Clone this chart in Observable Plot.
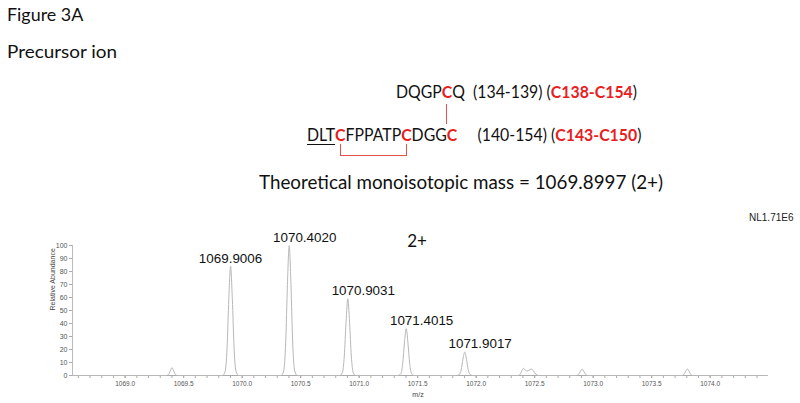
<!DOCTYPE html>
<html>
<head>
<meta charset="utf-8">
<script src="https://cdn.jsdelivr.net/npm/d3@7"></script>
<script src="https://cdn.jsdelivr.net/npm/@observablehq/plot@0.6"></script>
<style>
  html, body { margin: 0; padding: 0; background: #fff; }
  #wrap { position: relative; width: 800px; height: 403px; overflow: hidden; background: #fff; }
  .hd { position: absolute; white-space: pre; font-family: Lato, "Open Sans", sans-serif; color: #111; line-height: 1; font-size: 20px; transform-origin: 0 0; }
  .r { color: #e8201e; font-weight: bold; }
  .u { text-decoration: underline; text-decoration-thickness: 1px; text-underline-offset: 3px; }
  .redline { position: absolute; background: #e8504c; }
  #chart { position: absolute; left: 0; top: 200px; }
</style>
</head>
<body>
<div id="wrap"></div>
<script>
// ---------- data ----------
const figureTitle = "Figure 3A";
const subtitle = "Precursor ion";
const massText = "Theoretical monoisotopic mass = 1069.8997 (2+)";
const chargeText = "2+";
const nlText = "NL1.71E6";
const yLabel = "Relative Abundance";
const xLabel = "m/z";

// labelled isotopic peaks
const peakMz = [1069.9006, 1070.4020, 1070.9031, 1071.4015, 1071.9017];
const peakAbundance = [84, 100, 59, 36, 18];
const peakLabels = ["1069.9006", "1070.4020", "1070.9031", "1071.4015", "1071.9017"];

// profile spectrum (m/z, relative abundance)
const profileMz = [
  1068.55,
  1069.355, 1069.375, 1069.390, 1069.400, 1069.410, 1069.425, 1069.445,
  1069.832, 1069.854, 1069.871, 1069.886, 1069.901, 1069.916, 1069.931, 1069.948, 1069.970,
  1070.333, 1070.355, 1070.372, 1070.387, 1070.402, 1070.417, 1070.432, 1070.449, 1070.471,
  1070.834, 1070.856, 1070.873, 1070.888, 1070.903, 1070.918, 1070.933, 1070.950, 1070.972,
  1071.333, 1071.355, 1071.372, 1071.387, 1071.402, 1071.417, 1071.432, 1071.449, 1071.471,
  1071.833, 1071.855, 1071.872, 1071.887, 1071.902, 1071.917, 1071.932, 1071.949, 1071.971,
  1072.360, 1072.380, 1072.395, 1072.405, 1072.420, 1072.440, 1072.460, 1072.473, 1072.490, 1072.510, 1072.530,
  1072.860, 1072.880, 1072.895, 1072.905, 1072.915, 1072.930, 1072.950,
  1073.760, 1073.780, 1073.795, 1073.805, 1073.815, 1073.830, 1073.850,
  1074.49
];
const profileAbundance = [
  0,
  0, 1.5, 4.5, 6, 4.5, 1.5, 0,
  0, 3, 21, 59, 84, 59, 21, 3, 0,
  0, 3.5, 25, 70, 100, 70, 25, 3.5, 0,
  0, 2, 15, 41, 59, 41, 15, 2, 0,
  0, 1.3, 9, 25, 36, 25, 9, 1.3, 0,
  0, 0.7, 4.5, 12.6, 18, 12.6, 4.5, 0.7, 0,
  0, 1.5, 4.5, 5.5, 4, 3.5, 4.5, 5, 3.5, 1, 0,
  0, 1.5, 4, 5, 4, 1.5, 0,
  0, 1.5, 4, 5, 4, 1.5, 0,
  0
];

const xTickValues = [1069.0, 1069.5, 1070.0, 1070.5, 1071.0, 1071.5, 1072.0, 1072.5, 1073.0, 1073.5, 1074.0];
const yTickValues = [0, 10, 20, 30, 40, 50, 60, 70, 80, 90, 100];
const xDomain = [1068.55, 1074.49];

// ---------- header (HTML above the plot) ----------
const wrap = document.getElementById("wrap");
const headers = [
  {html: figureTitle, left: 6.7, width: 76.3, baseline: 20.7, size: 18},
  {html: subtitle, left: 6.7, width: 110, baseline: 57.5, size: 18},
  {html: 'DQGP<span class="r" id="c1">C</span>Q  (134-139) (<span class="r">C138-C154</span>)', left: 395.7, width: 241, baseline: 98.3, size: 16.4},
  {html: '<span class="u">DLT</span><span class="r" id="c2">C</span>FPPATP<span class="r" id="c3">C</span>DGG<span class="r">C</span>     (140-154) (<span class="r">C143-C150</span>)', left: 307.3, width: 334.4, baseline: 140.5, size: 16.4},
  {html: massText, left: 259, width: 404, baseline: 189.3, size: 18.5}
];
for (const h of headers) {
  const d = document.createElement("div");
  d.className = "hd";
  d.innerHTML = h.html + '<span class="bl" style="display:inline-block;width:0;height:0;vertical-align:baseline"></span>';
  d.style.left = h.left + "px";
  d.style.top = "0px";
  d.style.fontSize = h.size + "px";
  wrap.appendChild(d);
  const w0 = d.getBoundingClientRect().width;
  d.style.transform = "scaleX(" + (h.width / w0) + ")";
  const wr = wrap.getBoundingClientRect();
  const bl = d.querySelector(".bl").getBoundingClientRect().top - wr.top;
  d.style.top = (h.baseline - bl) + "px";
}
function centerX(id) {
  const r = document.getElementById(id).getBoundingClientRect();
  const wr = wrap.getBoundingClientRect();
  return (r.left + r.right) / 2 - wr.left;
}
function redLine(x, y, w, h) {
  const e = document.createElement("div");
  e.className = "redline";
  e.style.left = x + "px"; e.style.top = y + "px";
  e.style.width = w + "px"; e.style.height = h + "px";
  wrap.appendChild(e);
}
const xc1 = centerX("c1"), xc2 = centerX("c2"), xc3 = centerX("c3");
redLine(xc1 - 0.5, 104, 1, 20);
redLine(xc2 - 0.5, 144, 1, 11);
redLine(xc3 - 0.5, 144, 1, 11);
redLine(xc2 - 0.5, 154.5, xc3 - xc2 + 1, 1);

// ---------- plot ----------
const profile = profileMz.map((mz, i) => ({mz, ab: profileAbundance[i]}));
const peaks = peakMz.map((mz, i) => ({mz, ab: peakAbundance[i], label: peakLabels[i]}));
const minorTicks = d3.range(10686, 10745).map(d => d / 10);

const chart = Plot.plot({
  width: 800,
  height: 203,
  marginTop: 45,
  marginBottom: 28,
  marginLeft: 72,
  marginRight: 33,
  x: {domain: xDomain},
  y: {domain: [0, 100]},
  style: {fontFamily: '"Liberation Sans", Arial, sans-serif', background: "#fff", overflow: "visible"},
  marks: [
    Plot.axisX({ticks: minorTicks, tickSize: 3, tickFormat: () => "", label: null, stroke: "#aaa"}),
    Plot.axisX({ticks: xTickValues, tickSize: 3, tickPadding: 3, tickFormat: d => d.toFixed(1), label: null,
                fontSize: 6.5, stroke: "#aaa", fill: "#555"}),
    Plot.axisY({ticks: yTickValues, tickSize: 3, tickPadding: 2, label: null, fontSize: 7, stroke: "#aaa", fill: "#555"}),
    Plot.ruleY([0], {stroke: "#aaa"}),
    Plot.ruleX([xDomain[0]], {y1: 0, y2: 100, stroke: "#bbb"}),
    Plot.line(profile, {x: "mz", y: "ab", curve: "monotone-x", stroke: "#b8b8b8", strokeWidth: 1}),
    Plot.text(peaks.filter((d, i) => i === 0), {x: "mz", y: "ab", text: "label", dy: -8, lineAnchor: "middle", fontSize: 13.4, fill: "#111"}),
    Plot.text(peaks.filter((d, i) => i > 0), {x: "mz", y: "ab", text: "label", dx: 15.5, dy: -8, lineAnchor: "middle", fontSize: 13.4, fill: "#111"}),
    Plot.text([yLabel], {text: d => d, frameAnchor: "left", rotate: -90, dx: -20, fontSize: 7, fill: "#444"}),
    Plot.text([xLabel], {text: d => d, frameAnchor: "bottom", dx: -2, dy: 19, lineAnchor: "middle", fontSize: 7, fill: "#444"}),
    Plot.text([chargeText], {text: d => d, frameAnchor: "top", dx: -3, dy: -4, lineAnchor: "middle", fontSize: 17, fill: "#111", fontFamily: "Lato, sans-serif"}),
    Plot.text([nlText], {text: d => d, frameAnchor: "top-right", textAnchor: "end", dx: 26, dy: -27.4, lineAnchor: "middle", fontSize: 10, fill: "#222"})
  ]
});
chart.id = "chart";
wrap.appendChild(chart);
</script>
</body>
</html>
